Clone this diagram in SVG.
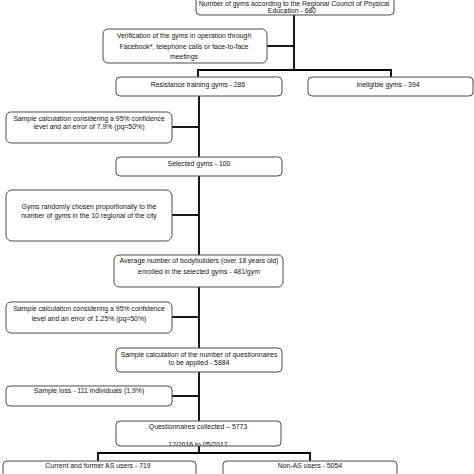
<svg xmlns="http://www.w3.org/2000/svg" width="474" height="474" viewBox="0 0 474 474">
<defs>
<style>
.box{fill:#fff;stroke:#4a4a4a;stroke-width:1}
.t{font-family:"Liberation Sans",Arial,sans-serif;font-size:6.9px;fill:#111;text-anchor:middle}
.c{stroke:#000;stroke-width:1.8;fill:none}
</style>
<clipPath id="clipQ"><rect x="116" y="421" width="165" height="25" rx="4"/></clipPath>
</defs>
<rect width="474" height="474" fill="#fff"/>
<g id="connectors">
<path class="c" d="M294,15 V70"/>
<path class="c" d="M267,46 H294"/>
<path class="c" d="M198,77 V70 H391 V77"/>
<path class="c" d="M199,96 V421"/>
<path class="c" d="M172,127 H199"/>
<path class="c" d="M172,215 H199"/>
<path class="c" d="M172,317 H199"/>
<path class="c" d="M172,396 H199"/>
<path class="c" d="M199,446 V453"/>
<path class="c" d="M98,461 V453 H310 V461"/>
</g>
<g id="n-total">
<rect class="box" x="196" y="-20" width="198" height="35" rx="4"/>
<text class="t" x="294" y="5.5" font-size="6.2px">Number of gyms according to the Regional Council of Physical</text>
<text class="t" x="292" y="12.6" font-size="6.6px">Education - 680</text>
</g>
<g id="n-verification">
<rect class="box" x="103" y="29" width="164" height="34" rx="5"/>
<text class="t" x="184" y="38">Verification of the gyms in operation through</text>
<text class="t" x="184" y="49">Facebook*, telephone calls or face-to-face</text>
<text class="t" x="184" y="59">meetings</text>
</g>
<g id="n-resistance">
<rect class="box" x="116" y="77" width="166" height="19" rx="4"/>
<text class="t" x="198" y="87">Resistance training gyms - 286</text>
</g>
<g id="n-ineligible">
<rect class="box" x="308" y="77" width="165" height="19" rx="4"/>
<text class="t" x="388" y="87">Ineligible gyms - 394</text>
</g>
<g id="n-sample1">
<rect class="box" x="6" y="112" width="166" height="31" rx="5"/>
<text class="t" x="89" y="121">Sample calculation considering a 95% confidence</text>
<text class="t" x="89" y="129">level and an error of 7.9% (pq=50%)</text>
</g>
<g id="n-selected">
<rect class="box" x="116" y="157" width="166" height="19" rx="4"/>
<text class="t" x="199" y="166">Selected gyms - 100</text>
</g>
<g id="n-random">
<rect class="box" x="6" y="190" width="166" height="51" rx="6"/>
<text class="t" x="89" y="209">Gyms randomly chosen proportionally to the</text>
<text class="t" x="89" y="218">number of gyms in the 10 regional of the city</text>
</g>
<g id="n-average">
<rect class="box" x="114" y="255" width="169" height="32" rx="5"/>
<text class="t" x="199" y="263">Average number of bodybuilders (over 18 years old)</text>
<text class="t" x="199" y="274">enrolled in the selected gyms - 481/gym</text>
</g>
<g id="n-sample2">
<rect class="box" x="6" y="302" width="166" height="31" rx="5"/>
<text class="t" x="89" y="311">Sample calculation considering a 95% confidence</text>
<text class="t" x="89" y="321">level and an error of 1.25% (pq=50%)</text>
</g>
<g id="n-questionnaires">
<rect class="box" x="116" y="348" width="166" height="24" rx="4"/>
<text class="t" x="199" y="357">Sample calculation of the number of questionnaires</text>
<text class="t" x="199" y="365">to be applied - 5884</text>
</g>
<g id="n-loss">
<rect class="box" x="6" y="386" width="166" height="20" rx="4"/>
<text class="t" x="89" y="393">Sample loss - 111 individuals (1,9%)</text>
</g>
<g id="n-collected">
<rect class="box" x="116" y="421" width="165" height="25" rx="4"/>
<text class="t" x="198" y="429">Questionnaires collected – 5773</text>
<text class="t" x="198" y="446.5" clip-path="url(#clipQ)">12/2016 to 05/2017</text>
</g>
<g id="n-as">
<rect class="box" x="3" y="461" width="193" height="30" rx="4"/>
<text class="t" x="98" y="468">Current and former AS users - 719</text>
</g>
<g id="n-nonas">
<rect class="box" x="223" y="461" width="174" height="30" rx="4"/>
<text class="t" x="310" y="468">Non-AS users - 5054</text>
</g>
</svg>
